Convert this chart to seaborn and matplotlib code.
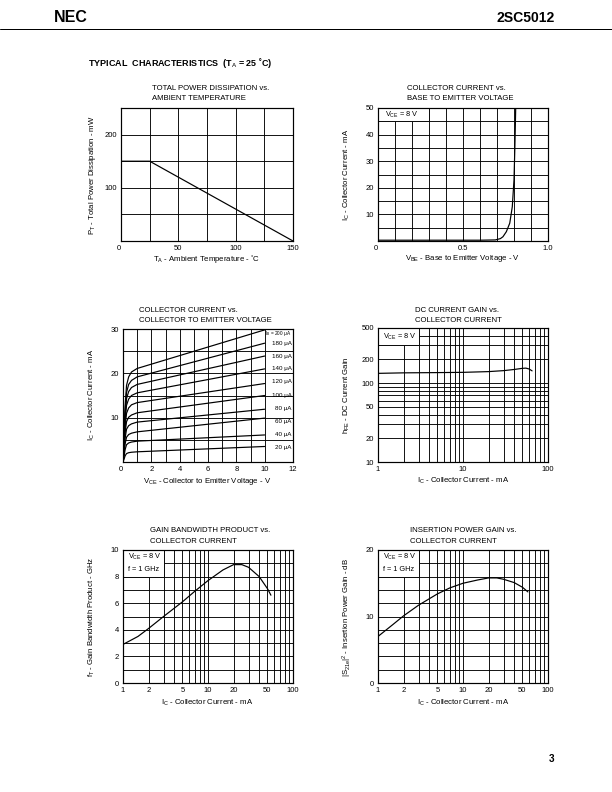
import numpy as np
import pandas as pd
import matplotlib
matplotlib.use("Agg")
import matplotlib.pyplot as plt
import seaborn as sns
from matplotlib.ticker import FixedLocator, NullFormatter, FixedFormatter
from matplotlib.patches import Rectangle
from matplotlib.lines import Line2D

# ---------------- data ----------------
# 1. Total power dissipation vs ambient temperature
ta_c = [0, 25, 150]
pt_mw = [150, 150, 0]

# 2. Collector current vs base-emitter voltage
vbe_v = [0.0, 0.1, 0.2, 0.3, 0.4, 0.5, 0.6, 0.69, 0.72, 0.735, 0.755, 0.775, 0.79, 0.8, 0.805, 0.81]
ic_vbe_ma = [0.3, 0.3, 0.3, 0.3, 0.3, 0.3, 0.3, 0.4, 0.9, 1.6, 3.5, 6.7, 12.9, 23.0, 35.0, 50.0]

# 3. Collector current vs collector-emitter voltage
vce_v = [0.0, 0.08, 0.15, 0.25, 0.4, 0.6, 1.0, 10.0]
ib_ua = [20, 40, 60, 80, 100, 120, 140, 160, 180, 200]
ic_20 = [0, 0.7, 1.4, 1.9, 2.1, 2.2, 2.3, 3.5]
ic_40 = [0, 1.4, 2.8, 3.9, 4.3, 4.5, 4.7, 6.1]
ic_60 = [0, 2.0, 4.1, 5.6, 6.2, 6.5, 6.8, 9.9]
ic_80 = [0, 2.7, 5.4, 7.4, 8.2, 8.6, 9.0, 11.9]
ic_100 = [0, 3.3, 6.7, 9.1, 10.1, 10.6, 11.1, 15.0]
ic_120 = [0, 4.0, 8.0, 11.0, 12.2, 12.9, 13.4, 17.7]
ic_140 = [0, 4.7, 9.4, 12.8, 14.2, 15.0, 15.6, 21.0]
ic_160 = [0, 5.2, 10.5, 14.3, 15.9, 16.8, 17.5, 23.9]
ic_180 = [0, 5.8, 11.5, 15.7, 17.5, 18.4, 19.2, 26.8]
ic_200 = [0, 6.3, 12.7, 17.3, 19.2, 20.3, 21.1, 29.8]
ic_curves = [ic_20, ic_40, ic_60, ic_80, ic_100, ic_120, ic_140, ic_160, ic_180, ic_200]
ib_labels = ["20 μA", "40 μA", "60 μA", "80 μA", "100 μA", "120 μA", "140 μA", "160 μA", "180 μA", "I$_\\mathrm{B}$ = 200 μA"]
ib_label_y = [3.3, 6.1, 9.1, 12.1, 15.1, 18.1, 21.0, 23.9, 26.8, 29.0]

# 4. DC current gain vs collector current
ic_hfe_ma = [1, 2, 5, 10, 20, 30, 40, 50, 55, 60, 65]
hfe = [133, 135, 136, 137, 140, 144, 149, 154, 155, 151, 143]

# 5. Gain bandwidth product vs collector current
ic_ft_ma = [1, 1.5, 2, 3, 5, 7, 10, 15, 20, 25, 30, 40, 50, 55]
ft_ghz = [2.9, 3.5, 4.1, 5.0, 6.1, 6.9, 7.7, 8.5, 8.9, 8.9, 8.7, 8.0, 7.1, 6.6]

# 6. Insertion power gain vs collector current
ic_s21_ma = [1, 1.5, 2, 3, 5, 7, 10, 15, 20, 25, 30, 40, 50, 58]
s21_db = [7.0, 8.8, 10.1, 11.7, 13.4, 14.3, 15.0, 15.5, 15.8, 15.8, 15.6, 15.1, 14.4, 13.7]

# ---------------- style ----------------
sns.set_style("white")
plt.rcParams["font.family"] = ["Liberation Sans", "DejaVu Sans"]
plt.rcParams["mathtext.fontset"] = "custom"
plt.rcParams["mathtext.rm"] = "Liberation Sans"
plt.rcParams["mathtext.it"] = "Liberation Sans:italic"
plt.rcParams["mathtext.bf"] = "Liberation Sans:bold"
plt.rcParams["text.color"] = "black"
plt.rcParams["axes.labelcolor"] = "black"
plt.rcParams["xtick.color"] = "black"
plt.rcParams["ytick.color"] = "black"

FS = 7.8      # general text size
TFS = 7.6     # tick label size
BFS = 7.4     # boxed note size

W, H = 612, 792
fig = plt.figure(figsize=(W / 72, H / 72), dpi=72)
fig.patch.set_facecolor("white")


def P(x, y):
    return x / W, 1 - y / H


def add_ax(x0, y0, x1, y1):
    ax = fig.add_axes([x0 / W, 1 - y1 / H, (x1 - x0) / W, (y1 - y0) / H])
    ax.set_facecolor("white")
    for s in ax.spines.values():
        s.set_visible(True)
        s.set_color("black")
        s.set_linewidth(1.2)
    ax.set_axisbelow(True)
    ax.tick_params(which="both", length=0, labelsize=TFS, pad=4, colors="black")
    return ax


def grid(ax):
    ax.grid(True, which="both", color="black", linewidth=0.9)


def ftext(x, y, s, **kw):
    kw.setdefault("fontsize", FS)
    kw.setdefault("color", "black")
    fig.text(*P(x, y), s, **kw)


def titles(x, y, l1, l2):
    ftext(x, y, l1, va="center", ha="left")
    ftext(x, y + 10.5, l2, va="center", ha="left")


def ylabel(x, ycen, s):
    ftext(x, ycen, s, rotation=90, va="center", ha="center")


def xlabel(xcen, y, s):
    ftext(xcen, y, s, va="center", ha="center")


def cover(ax, x0, y0, x1, y1):
    ax.add_patch(Rectangle((x0, y0), x1 - x0, y1 - y0, facecolor="white",
                           edgecolor="black", linewidth=0.9, zorder=1))


LW = 1.2

# ---------------- header ----------------
ftext(54, 17, "NEC", fontsize=16, fontweight="heavy", va="center", ha="left")
ftext(555, 18, "2SC5012", fontsize=14, fontweight="bold", va="center", ha="right")
fig.add_artist(Line2D([0, 1], [1 - 28.5 / H, 1 - 28.5 / H], transform=fig.transFigure,
                      color="black", linewidth=1.0))
ftext(88, 63, r"TYPICAL  CHARACTERISTICS  (T$_\mathrm{A}$ = 25 ˚C)", fontsize=9,
      fontweight="bold", va="center", ha="left")
ftext(554, 759, "3", fontsize=10, fontweight="bold", va="center", ha="right")

# ---------------- chart 1 ----------------
ax1 = add_ax(121, 108, 293, 241)
sns.lineplot(x=ta_c, y=pt_mw, ax=ax1, color="black", linewidth=LW)
ax1.set_xlim(0, 150)
ax1.set_ylim(0, 250)
ax1.xaxis.set_major_locator(FixedLocator([0, 50, 100, 150]))
ax1.xaxis.set_major_formatter(FixedFormatter(["0", "50", "100", "150"]))
ax1.xaxis.set_minor_locator(FixedLocator([25, 75, 125]))
ax1.yaxis.set_major_locator(FixedLocator([100, 200]))
ax1.yaxis.set_minor_locator(FixedLocator([50, 150]))
grid(ax1)
ax1.get_xticklabels()[0].set_horizontalalignment("right")
titles(152, 88, "TOTAL POWER DISSIPATION vs.", "AMBIENT TEMPERATURE")
ylabel(93, 175, r"P$_\mathrm{T}$ - Total Power Dissipation - mW")
xlabel(207, 259, r"T$_\mathrm{A}$ - Ambient Temperature - ˚C")

# ---------------- chart 2 ----------------
ax2 = add_ax(378, 108, 548, 241)
sns.lineplot(x=vbe_v, y=ic_vbe_ma, ax=ax2, color="black", linewidth=LW, sort=False)
ax2.set_xlim(0, 1.0)
ax2.set_ylim(0, 50)
ax2.xaxis.set_major_locator(FixedLocator([0, 0.5, 1.0]))
ax2.xaxis.set_major_formatter(FixedFormatter(["0", "0.5", "1.0"]))
ax2.xaxis.set_minor_locator(FixedLocator([0.1, 0.2, 0.3, 0.4, 0.6, 0.7, 0.8, 0.9]))
ax2.yaxis.set_major_locator(FixedLocator([10, 20, 30, 40, 50]))
ax2.yaxis.set_minor_locator(FixedLocator([5, 15, 25, 35, 45]))
grid(ax2)
ax2.get_xticklabels()[0].set_horizontalalignment("right")
cover(ax2, 0, 45, 0.3, 50)
ax2.text(0.04, 47.5, r"V$_\mathrm{CE}$ = 8 V", fontsize=BFS, va="center", ha="left", zorder=3)
titles(407, 88, "COLLECTOR CURRENT vs.", "BASE TO EMITTER VOLTAGE")
ylabel(347, 175, r"I$_\mathrm{C}$ - Collector Current - mA")
xlabel(463, 259, r"V$_\mathrm{BE}$ - Base to Emitter Voltage - V")

# ---------------- chart 3 ----------------
ax3 = add_ax(123, 329, 293, 462)
rows = []
for ib, curve in zip(ib_ua, ic_curves):
    for v, i in zip(vce_v, curve):
        rows.append({"ib": ib, "vce": v, "ic": i})
df3 = pd.DataFrame(rows)
sns.lineplot(data=df3, x="vce", y="ic", units="ib", estimator=None, ax=ax3,
             color="black", linewidth=LW, sort=False)
ax3.set_xlim(0, 12)
ax3.set_ylim(0, 30)
ax3.xaxis.set_major_locator(FixedLocator([0, 2, 4, 6, 8, 10, 12]))
ax3.xaxis.set_minor_locator(FixedLocator([1, 3, 5, 7, 9]))
ax3.yaxis.set_major_locator(FixedLocator([10, 20, 30]))
ax3.yaxis.set_minor_locator(FixedLocator([5, 15, 25]))
grid(ax3)
ax3.add_patch(Rectangle((10.02, 0), 1.98, 30, facecolor="white", edgecolor="none", zorder=0.8))
for yv in [5, 10, 15, 20, 25]:
    ax3.plot([10, 12], [yv, yv], color="black", linewidth=0.9, zorder=0.9)
ax3.plot([10, 10], [0, 30], color="black", linewidth=0.9, zorder=0.9)
ax3.get_xticklabels()[0].set_horizontalalignment("right")
for lab, yv in zip(ib_labels, ib_label_y):
    fs = 4.8 if lab.startswith("I") else 6.3
    ax3.text(11.9, yv, lab, fontsize=fs, va="center", ha="right", zorder=3)
titles(139, 310, "COLLECTOR CURRENT vs.", "COLLECTOR TO EMITTER VOLTAGE")
ylabel(92, 395, r"I$_\mathrm{C}$ - Collector Current - mA")
xlabel(207, 481, r"V$_\mathrm{CE}$ - Collector to Emitter Voltage - V")

# ---------------- chart 4 ----------------
ax4 = add_ax(378, 328, 548, 462)
ax4.set_xscale("log")
ax4.set_yscale("log")
sns.lineplot(x=ic_hfe_ma, y=hfe, ax=ax4, color="black", linewidth=LW, sort=False)
ax4.set_xlim(1, 100)
ax4.set_ylim(10, 500)
ax4.xaxis.set_major_locator(FixedLocator([1, 10, 100]))
ax4.xaxis.set_major_formatter(FixedFormatter(["1", "10", "100"]))
ax4.xaxis.set_minor_locator(FixedLocator([2, 3, 4, 5, 6, 7, 8, 9, 20, 30, 40, 50, 60, 70, 80, 90]))
ax4.xaxis.set_minor_formatter(NullFormatter())
ax4.yaxis.set_major_locator(FixedLocator([10, 20, 50, 100, 200, 500]))
ax4.yaxis.set_major_formatter(FixedFormatter(["10", "20", "50", "100", "200", "500"]))
ax4.yaxis.set_minor_locator(FixedLocator([30, 40, 60, 70, 80, 90, 300, 400]))
ax4.yaxis.set_minor_formatter(NullFormatter())
grid(ax4)
cover(ax4, 1, 300, 3, 500)
ax4.text(1.15, 390, r"V$_\mathrm{CE}$ = 8 V", fontsize=BFS, va="center", ha="left", zorder=3)
titles(415, 310, "DC CURRENT GAIN vs.", "COLLECTOR CURRENT")
ylabel(347, 395, r"h$_\mathrm{FE}$ - DC Current Gain")
xlabel(463, 481, r"I$_\mathrm{C}$ - Collector Current - mA")

# ---------------- chart 5 ----------------
ax5 = add_ax(123, 550, 293, 683)
ax5.set_xscale("log")
sns.lineplot(x=ic_ft_ma, y=ft_ghz, ax=ax5, color="black", linewidth=LW, sort=False)
ax5.set_xlim(1, 100)
ax5.set_ylim(0, 10)
ax5.xaxis.set_major_locator(FixedLocator([1, 2, 5, 10, 20, 50, 100]))
ax5.xaxis.set_major_formatter(FixedFormatter(["1", "2", "5", "10", "20", "50", "100"]))
ax5.xaxis.set_minor_locator(FixedLocator([3, 4, 6, 7, 8, 9, 30, 40, 60, 70, 80, 90]))
ax5.xaxis.set_minor_formatter(NullFormatter())
ax5.yaxis.set_major_locator(FixedLocator([0, 2, 4, 6, 8, 10]))
ax5.yaxis.set_minor_locator(FixedLocator([1, 3, 5, 7, 9]))
grid(ax5)
cover(ax5, 1, 8, 3, 10)
ax5.text(1.15, 9.45, r"V$_\mathrm{CE}$ = 8 V", fontsize=BFS, va="center", ha="left", zorder=3)
ax5.text(1.15, 8.55, "f = 1 GHz", fontsize=BFS, va="center", ha="left", zorder=3)
titles(150, 531, "GAIN BANDWIDTH PRODUCT vs.", "COLLECTOR CURRENT")
ylabel(92, 617, r"f$_\mathrm{T}$ - Gain Bandwidth Product - GHz")
xlabel(207, 703, r"I$_\mathrm{C}$ - Collector Current - mA")

# ---------------- chart 6 ----------------
ax6 = add_ax(378, 550, 548, 683)
ax6.set_xscale("log")
sns.lineplot(x=ic_s21_ma, y=s21_db, ax=ax6, color="black", linewidth=LW, sort=False)
ax6.set_xlim(1, 100)
ax6.set_ylim(0, 20)
ax6.xaxis.set_major_locator(FixedLocator([1, 2, 5, 10, 20, 50, 100]))
ax6.xaxis.set_major_formatter(FixedFormatter(["1", "2", "5", "10", "20", "50", "100"]))
ax6.xaxis.set_minor_locator(FixedLocator([3, 4, 6, 7, 8, 9, 30, 40, 60, 70, 80, 90]))
ax6.xaxis.set_minor_formatter(NullFormatter())
ax6.yaxis.set_major_locator(FixedLocator([0, 10, 20]))
ax6.yaxis.set_minor_locator(FixedLocator([2, 4, 6, 8, 12, 14, 16, 18]))
grid(ax6)
cover(ax6, 1, 16, 3, 20)
ax6.text(1.15, 18.9, r"V$_\mathrm{CE}$ = 8 V", fontsize=BFS, va="center", ha="left", zorder=3)
ax6.text(1.15, 17.1, "f = 1 GHz", fontsize=BFS, va="center", ha="left", zorder=3)
titles(410, 531, "INSERTION POWER GAIN vs.", "COLLECTOR CURRENT")
ylabel(347, 617, r"|S$_\mathrm{21e}$|$^\mathrm{2}$ - Insertion Power Gain - dB")
xlabel(463, 703, r"I$_\mathrm{C}$ - Collector Current - mA")

for ax in [ax1, ax2, ax3, ax4, ax5, ax6]:
    ax.set_xlabel("")
    ax.set_ylabel("")

fig.savefig("out.png", dpi=72, facecolor="white")
